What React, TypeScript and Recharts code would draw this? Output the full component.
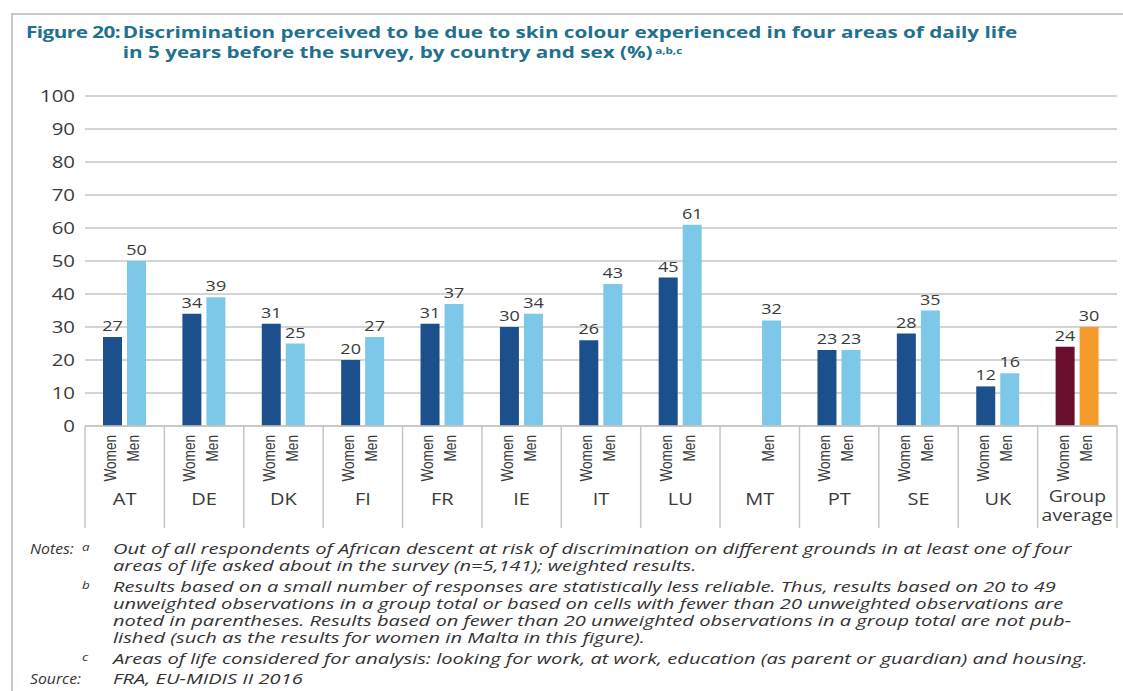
import React from 'react';
import { BarChart, Bar, XAxis, YAxis, CartesianGrid, Cell, LabelList } from 'recharts';

const countries = ['AT', 'DE', 'DK', 'FI', 'FR', 'IE', 'IT', 'LU', 'MT', 'PT', 'SE', 'UK', 'Group average'];
const women: (number | null)[] = [27, 34, 31, 20, 31, 30, 26, 45, null, 23, 28, 12, 24];
const men: number[] = [50, 39, 25, 27, 37, 34, 43, 61, 32, 23, 35, 16, 30];
const yTicks = [0, 10, 20, 30, 40, 50, 60, 70, 80, 90, 100];

const data = countries.map((c, i) => ({ country: c, women: women[i], men: men[i] }));

const W = 1123;
const CHART_H = 540;
const PLOT_LEFT = 85;
const PLOT_RIGHT = 6;
const PLOT_W = W - PLOT_LEFT - PLOT_RIGHT;
const BAND = PLOT_W / countries.length;
const STRETCH = 1.25;

const WOMEN_COLOR = '#1c508c';
const MEN_COLOR = '#7dc8e8';
const AVG_WOMEN_COLOR = '#690f2d';
const AVG_MEN_COLOR = '#f59b2d';
const TEXT = '#3a3a3a';
const GRID = '#c6c6c6';
const TITLE_COLOR = '#21708f';
const FONT = 'Open Sans, sans-serif';

const YTick = (props: any) => {
  const { x, y, payload } = props;
  return (
    <text
      transform={`translate(${x},${y}) scale(1.2,1)`}
      textAnchor="end"
      dy="0.36em"
      fill={TEXT}
      fontSize={17}
      fontFamily={FONT}
    >
      {payload.value}
    </text>
  );
};

const ValueLabel = (props: any) => {
  const { x, y, width, value } = props;
  if (value === null || value === undefined) return null;
  return (
    <text
      transform={`translate(${x + width / 2},${y - 6}) scale(1.2,1)`}
      textAnchor="middle"
      fill={TEXT}
      fontSize={15}
      fontFamily={FONT}
    >
      {value}
    </text>
  );
};

const CatTick = (props: any) => {
  const { x, y, payload, index } = props;
  const label: string = payload.value;
  const i = countries.indexOf(label);
  const hasWomen = women[i] !== null && women[i] !== undefined;
  const left = x - BAND / 2;
  const right = x + BAND / 2;
  const rotLabel = (tx: number, txt: string) => (
    <text
      transform={`translate(${tx},${y + 9}) rotate(-90) scale(1,1.28)`}
      textAnchor="end"
      dy="0.36em"
      fill={TEXT}
      fontSize={13.6}
      fontFamily="Liberation Sans, Arial, sans-serif"
    >
      {txt}
    </text>
  );
  const hText = (txt: string, ty: number, fs = 16) => (
    <text
      transform={`translate(${x},${ty}) scale(${STRETCH},1)`}
      textAnchor="middle"
      fill={TEXT}
      fontSize={fs}
      fontFamily={FONT}
    >
      {txt}
    </text>
  );
  return (
    <g>
      {index === 0 && <line x1={left} x2={left} y1={y} y2={y + 102} stroke={GRID} strokeWidth={1.5} />}
      <line x1={right} x2={right} y1={y} y2={y + 102} stroke={GRID} strokeWidth={1.5} />
      {hasWomen && rotLabel(x - 15, 'Women')}
      {rotLabel(x + 8, 'Men')}
      {label === 'Group average' ? (
        <g>
          {hText('Group', y + 76, 15.5)}
          {hText('average', y + 95, 15.5)}
        </g>
      ) : (
        hText(label, y + 79)
      )}
    </g>
  );
};

const notes: { mark: string; lines: string[] }[] = [
  {
    mark: 'a',
    lines: [
      'Out of all respondents of African descent at risk of discrimination on different grounds in at least one of four',
      'areas of life asked about in the survey (n=5,141); weighted results.',
    ],
  },
  {
    mark: 'b',
    lines: [
      'Results based on a small number of responses are statistically less reliable. Thus, results based on 20 to 49',
      'unweighted observations in a group total or based on cells with fewer than 20 unweighted observations are',
      'noted in parentheses. Results based on fewer than 20 unweighted observations in a group total are not pub-',
      'lished (such as the results for women in Malta in this figure).',
    ],
  },
  {
    mark: 'c',
    lines: ['Areas of life considered for analysis: looking for work, at work, education (as parent or guardian) and housing.'],
  },
];

const NOTE_SCALE = 1.34;

const NoteText = ({ children, style }: { children: React.ReactNode; style?: React.CSSProperties }) => (
  <span
    style={{
      display: 'inline-block',
      fontFamily: FONT,
      fontStyle: 'italic',
      fontSize: 15,
      color: '#333',
      whiteSpace: 'nowrap',
      lineHeight: '17px',
      transform: `scaleX(${NOTE_SCALE})`,
      transformOrigin: 'left center',
      ...style,
    }}
  >
    {children}
  </span>
);

export default function App() {
  return (
    <div style={{ position: 'absolute', left: 0, top: 0, width: W, height: 691, background: '#fff', overflow: 'hidden' }}>
      <div style={{ position: 'absolute', left: 12, top: 13, right: 0, height: 2, background: '#c3c9cf' }} />
      <div style={{ position: 'absolute', left: 11, top: 13, width: 2, bottom: 0, background: '#c3c9cf' }} />
      <div
        style={{
          position: 'absolute',
          left: 26,
          top: 22,
          display: 'flex',
          fontFamily: FONT,
          fontWeight: 700,
          fontSize: 16,
          lineHeight: '20px',
          color: TITLE_COLOR,
          whiteSpace: 'nowrap',
          transform: 'scaleX(1.29)',
          transformOrigin: 'left top',
        }}
      >
        <div style={{ width: 75, letterSpacing: -0.4 }}>Figure 20:</div>
        <div>
          <div>Discrimination perceived to be due to skin colour experienced in four areas of daily life</div>
          <div>
            in 5 years before the survey, by country and sex (%)
            <sup style={{ fontSize: 9, verticalAlign: 'top', position: 'relative', top: -1, marginLeft: 2 }}>a,b,c</sup>
          </div>
        </div>
      </div>

      <div style={{ position: 'absolute', left: 0, top: 0 }}>
        <BarChart
          width={W}
          height={CHART_H}
          data={data}
          margin={{ top: 96, right: PLOT_RIGHT, left: 25, bottom: 12 }}
          barSize={19}
          barGap={5}
        >
          <CartesianGrid horizontal vertical={false} stroke={GRID} strokeWidth={1.5} />
          <YAxis
            type="number"
            domain={[0, 100]}
            ticks={yTicks}
            width={60}
            axisLine={false}
            tickLine={false}
            tickMargin={4}
            tick={<YTick />}
          />
          <XAxis
            dataKey="country"
            interval={0}
            height={102}
            axisLine={{ stroke: GRID, strokeWidth: 1.5 }}
            tickLine={false}
            tickSize={0}
            tickMargin={0}
            tick={<CatTick />}
          />
          <Bar dataKey="women" fill={WOMEN_COLOR} isAnimationActive={false}>
            {data.map((d, i) => (
              <Cell key={`w${i}`} fill={d.country === 'Group average' ? AVG_WOMEN_COLOR : WOMEN_COLOR} />
            ))}
            <LabelList dataKey="women" content={<ValueLabel />} />
          </Bar>
          <Bar dataKey="men" fill={MEN_COLOR} isAnimationActive={false}>
            {data.map((d, i) => (
              <Cell key={`m${i}`} fill={d.country === 'Group average' ? AVG_MEN_COLOR : MEN_COLOR} />
            ))}
            <LabelList dataKey="men" content={<ValueLabel />} />
          </Bar>
        </BarChart>
      </div>

      <div style={{ position: 'absolute', left: 0, top: 540, width: W }}>
        {notes.map((n, ni) => (
          <div key={n.mark} style={{ position: 'relative', marginTop: ni === 0 ? 0 : 4 }}>
            {ni === 0 && (
              <div style={{ position: 'absolute', left: 30, top: 0 }}>
                <NoteText style={{ transform: 'scaleX(1.05)' }}>Notes:</NoteText>
              </div>
            )}
            <div style={{ position: 'absolute', left: 82, top: -3 }}>
              <NoteText style={{ fontSize: 10 }}>{n.mark}</NoteText>
            </div>
            {n.lines.map((l, li) => (
              <div key={li} style={{ marginLeft: 113, height: 17 }}>
                <NoteText>{l}</NoteText>
              </div>
            ))}
          </div>
        ))}
        <div style={{ position: 'relative', marginTop: 3 }}>
          <div style={{ position: 'absolute', left: 30, top: 0 }}>
            <NoteText style={{ transform: 'scaleX(1.05)' }}>Source:</NoteText>
          </div>
          <div style={{ marginLeft: 113, height: 17 }}>
            <NoteText>FRA, EU-MIDIS II 2016</NoteText>
          </div>
        </div>
      </div>
    </div>
  );
}
